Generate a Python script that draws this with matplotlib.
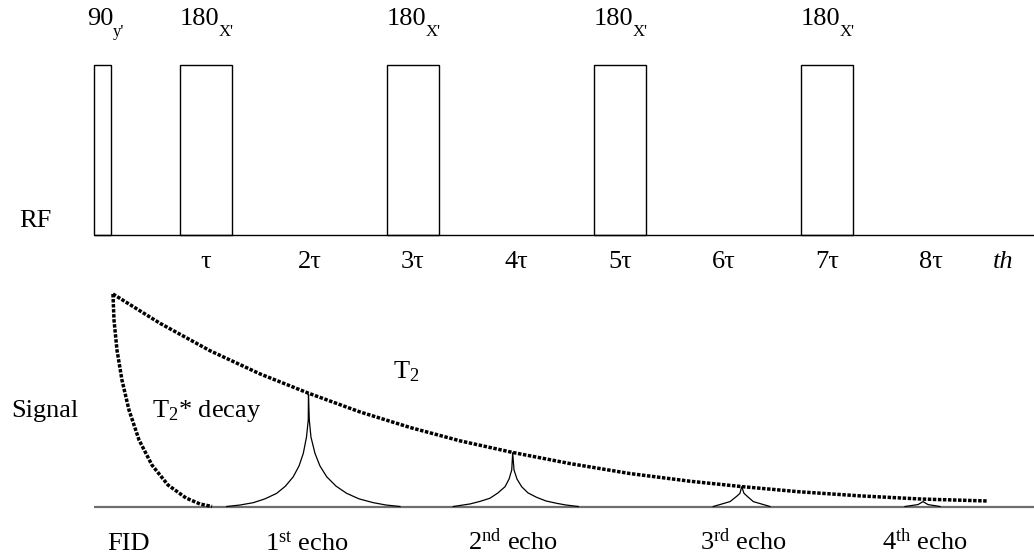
import numpy as np
import matplotlib.pyplot as plt

plt.rcParams['font.family'] = ['Liberation Serif', 'DejaVu Serif']
plt.rcParams['mathtext.fontset'] = 'custom'
plt.rcParams['mathtext.rm'] = 'Liberation Serif'
plt.rcParams['mathtext.it'] = 'Liberation Serif:italic'

# time is in units of tau, pulse height / signal amplitude are relative
pulse_centers = [0, 1, 3, 5, 7]
pulse_widths = [0.17, 0.5, 0.5, 0.5, 0.5]
pulse_names = ['90', '180', '180', '180', '180']
pulse_phases = ["y'", "X'", "X'", "X'", "X'"]

tau_ticks = [1, 2, 3, 4, 5, 6, 7, 8]
tau_labels = ['τ', '2τ', '3τ', '4τ', '5τ', '6τ', '7τ', '8τ']
time_label = 'th'
time_label_pos = 8.7

# T2 envelope (dotted)
t2_t = [0.101, 0.556, 1.039, 1.522, 1.986, 2.488, 2.971, 3.454, 3.966,
        4.517, 5.097, 5.676, 6.169, 6.739, 7.319, 7.918, 8.546]
t2_amp = [1.000, 0.862, 0.733, 0.624, 0.534, 0.445, 0.372, 0.309, 0.254,
          0.202, 0.155, 0.119, 0.094, 0.069, 0.050, 0.035, 0.026]

# FID, T2* decay (dotted)
fid_t = [0.101, 0.111, 0.140, 0.188, 0.256, 0.353, 0.478, 0.633, 0.807, 0.942, 1.058]
fid_amp = [1.000, 0.878, 0.736, 0.595, 0.454, 0.313, 0.195, 0.101, 0.040, 0.012, 0.0]

# echoes
echo1_t = [1.200, 1.329, 1.457, 1.570, 1.683, 1.768, 1.843, 1.899, 1.940, 1.971, 1.988, 1.990,
           1.998, 2.014, 2.053, 2.101, 2.166, 2.256, 2.359, 2.478, 2.616, 2.739, 2.874]
echo1_amp = [0.0, 0.007, 0.018, 0.036, 0.062, 0.096, 0.140, 0.191, 0.250, 0.327, 0.407, 0.529,
             0.407, 0.327, 0.250, 0.191, 0.140, 0.096, 0.062, 0.036, 0.018, 0.007, 0.0]
echo2_t = [3.389, 3.551, 3.647, 3.744, 3.821, 3.889, 3.928, 3.954, 3.963,
           3.976, 4.005, 4.050, 4.111, 4.195, 4.285, 4.388, 4.478, 4.597]
echo2_amp = [0.0, 0.012, 0.024, 0.039, 0.064, 0.093, 0.129, 0.172, 0.253,
             0.172, 0.129, 0.093, 0.064, 0.043, 0.026, 0.015, 0.007, 0.0]
echo3_t = [5.901, 6.063, 6.130, 6.159, 6.176, 6.198, 6.227, 6.288, 6.449]
echo3_amp = [0.0, 0.023, 0.049, 0.062, 0.093, 0.062, 0.049, 0.023, 0.0]
echo4_t = [7.754, 7.879, 7.928, 7.976, 8.092]
echo4_amp = [0.0, 0.009, 0.023, 0.009, 0.0]

echo_labels = ['FID', '1$^{\\mathrm{st}}$ echo', '2$^{\\mathrm{nd}}$ echo',
               '3$^{\\mathrm{rd}}$ echo', '4$^{\\mathrm{th}}$ echo']
echo_label_pos = [0.043, 1.570, 3.531, 5.773, 7.531]

W, H = 1034, 554
fig = plt.figure(figsize=(W / 100, H / 100), dpi=100)
t_left, t_right = -102.5 / 103.5, 931.5 / 103.5

ax_rf = fig.add_axes([0, (H - 235) / H, 1, 170 / H])
ax_sig = fig.add_axes([0, (H - 506.5) / H, 1, 212.5 / H])
for ax in (ax_rf, ax_sig):
    ax.set_xlim(t_left, t_right)
    ax.set_ylim(0, 1)
    ax.axis('off')

fs = 19
start = pulse_centers[0] - pulse_widths[0] / 2

# RF pulse train
ax_rf.hlines(0, start, t_right, color='black', lw=1.0, clip_on=False)
ax_rf.bar(pulse_centers, 1, width=pulse_widths, fill=False, edgecolor='black',
          linewidth=1.0, clip_on=False)
for i, (c, w, n, p) in enumerate(zip(pulse_centers, pulse_widths, pulse_names, pulse_phases)):
    shift = 0.06 if i == 0 else 0.0
    txt = ax_rf.text(c - w / 2 - shift, 1.235, n, ha='left', va='baseline', fontsize=fs)
    ax_rf.annotate(p, xy=(1, 0), xycoords=txt, xytext=(-1.0, -4.5),
                   textcoords='offset points', ha='left', va='baseline', fontsize=12)
for t, lab in zip(tau_ticks, tau_labels):
    ax_rf.text(t, -0.194, lab, ha='center', va='baseline', fontsize=fs)
ax_rf.text(time_label_pos, -0.194, time_label, ha='center', va='baseline',
           fontsize=fs, style='italic')
ax_rf.text(-0.80, 0.047, 'RF', ha='left', va='baseline', fontsize=fs)

# signal
ax_sig.hlines(0, start, t_right, color='#6e6e6e', lw=1.6, clip_on=False)
for et, ea in [(echo1_t, echo1_amp), (echo2_t, echo2_amp),
               (echo3_t, echo3_amp), (echo4_t, echo4_amp)]:
    ax_sig.plot(et, ea, color='black', lw=0.9, clip_on=False)
dots = dict(color='black', lw=2.5, linestyle=(0, (1, 0.45)), clip_on=False, zorder=4)
ax_sig.plot(t2_t, t2_amp, **dots)
ax_sig.plot(fid_t, fid_amp, **dots)

ax_sig.text(-0.877, 0.42, 'Signal', ha='left', va='baseline', fontsize=fs)
ax_sig.text(0.475, 0.423, 'T$_2$* decay', ha='left', va='baseline', fontsize=fs)
ax_sig.text(2.81, 0.603, 'T$_2$', ha='left', va='baseline', fontsize=fs)
for pos, lab in zip(echo_label_pos, echo_labels):
    ax_sig.text(pos, -0.205, lab, ha='left', va='baseline', fontsize=fs)

fig.savefig('out.png', dpi=100)
